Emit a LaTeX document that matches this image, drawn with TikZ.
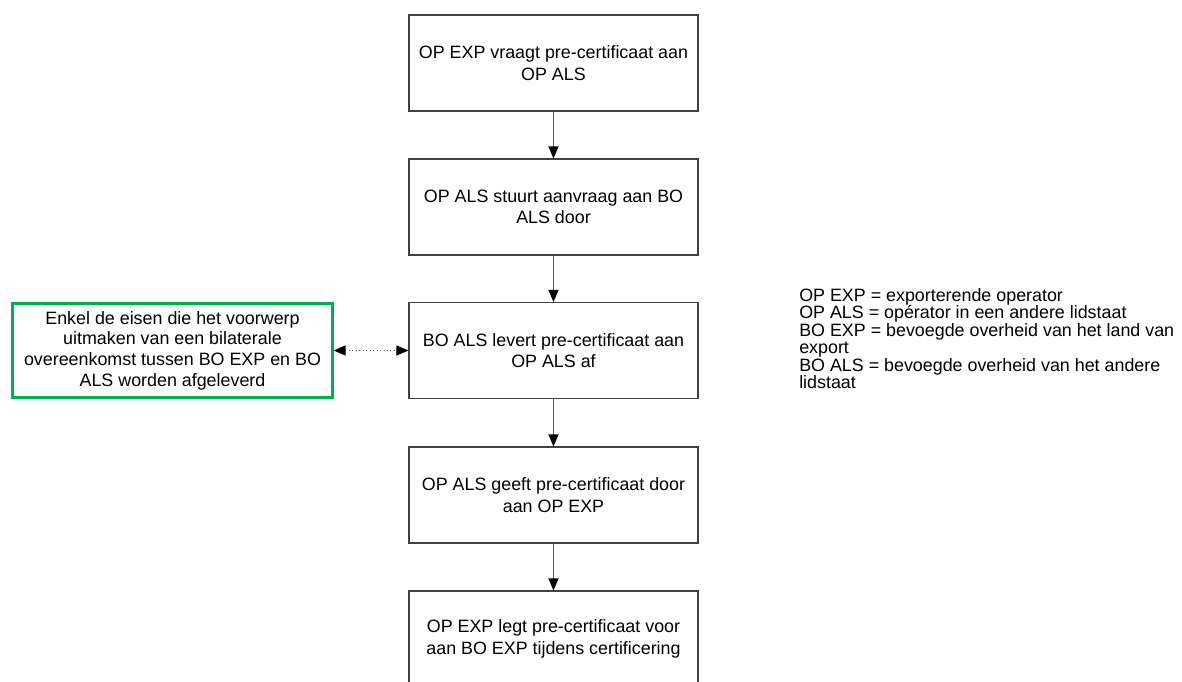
\documentclass[tikz,border=0pt]{standalone}
\usepackage{fontspec}
\setmainfont{Liberation Sans}
\usetikzlibrary{arrows.meta}
\definecolor{boxline}{RGB}{64,64,64}
\definecolor{greenline}{RGB}{0,176,80}
\definecolor{lineg}{RGB}{90,90,90}
\tikzset{
  flowbox/.style={draw=boxline, line width=0.8pt, rectangle, minimum width=289*0.75pt, minimum height=96*0.75pt, align=center, inner sep=0pt, font=\fontsize{13.4}{16}\selectfont},
  notebox/.style={draw=greenline, line width=1.6pt, rectangle, minimum width=320*0.75pt, minimum height=94*0.75pt, align=center, inner sep=0pt, font=\fontsize{13.4}{15.5}\selectfont},
  flowarrow/.style={draw=lineg, line width=0.8pt, -{Triangle[width=7.5pt,length=9pt,color=black]}},
  dotarrow/.style={draw=lineg, line width=0.6pt, dotted, {Triangle[width=7.5pt,length=9pt,color=black]}-{Triangle[width=7.5pt,length=9pt,color=black]}},
  legend/.style={align=left, inner sep=0pt, anchor=north west, font=\fontsize{13.4}{13.1}\selectfont}
}
\begin{document}
\begin{tikzpicture}[x=0.75pt,y=-0.75pt]
\useasboundingbox (0,0) rectangle (1182,682);
\node[flowbox] (b1) at (553.5,63) {OP EXP vraagt pre-certificaat aan\\OP ALS};
\node[flowbox] (b2) at (553.5,207) {OP ALS stuurt aanvraag aan BO\\ALS door};
\node[flowbox] (b3) at (553.5,350.5) {BO ALS levert pre-certificaat aan\\OP ALS af};
\node[flowbox] (b4) at (553.5,495) {OP ALS geeft pre-certificaat door\\aan OP EXP};
\node[flowbox] (b5) at (553.5,639) {OP EXP legt pre-certificaat voor\\aan BO EXP tijdens certificering};
\node[notebox] (n) at (172.5,350.5) {Enkel de eisen die het voorwerp\\uitmaken van een bilaterale\\overeenkomst tussen BO EXP en BO\\ALS worden afgeleverd};
\draw[flowarrow] (b1) -- (b2);
\draw[flowarrow] (b2) -- (b3);
\draw[flowarrow] (b3) -- (b4);
\draw[flowarrow] (b4) -- (b5);
\draw[dotarrow] (n) -- (b3);
\node[legend] (lg) at (799,288) {OP EXP = exporterende operator\\OP ALS = opérator in een andere lidstaat\\BO EXP = bevoegde overheid van het land van\\export\\BO ALS = bevoegde overheid van het andere\\lidstaat};
\end{tikzpicture}
\end{document}
